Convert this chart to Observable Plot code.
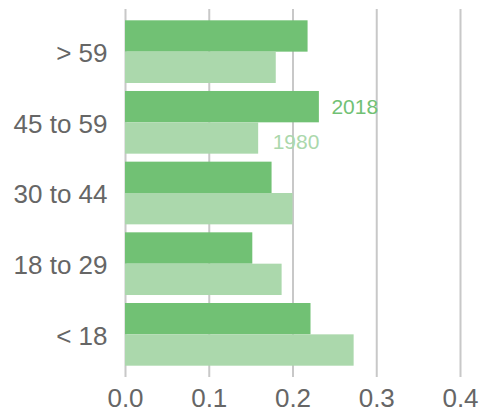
<!DOCTYPE html>
<html>
<head>
<meta charset="utf-8">
<script src="https://cdn.jsdelivr.net/npm/d3@7"></script>
<script src="https://cdn.jsdelivr.net/npm/@observablehq/plot@0.6"></script>
<style>
  html, body { margin: 0; padding: 0; background: #fff; }
  #chart svg { display: block; }
</style>
</head>
<body>
<div id="chart"></div>
<script>
const ageGroups = ["> 59", "45 to 59", "30 to 44", "18 to 29", "< 18"];
const values2018 = [0.218, 0.2315, 0.175, 0.152, 0.2215];
const values1980 = [0.180, 0.159, 0.200, 0.187, 0.273];
const xTicks = [0, 0.1, 0.2, 0.3, 0.4];
const seriesLabels = ["2018", "1980"];
const labelGroup = "45 to 59";

const dark = "#71c174";
const light = "#abd8ac";
const gray = "#666666";

const W = 479, H = 413;
const mTop = 9, mBottom = 36, mLeft = 125, mRight = 19;
const pIn = 0.113, pOut = 0.16;
const step = (H - mTop - mBottom) / (ageGroups.length - pIn + 2 * pOut);
const half = step * (1 - pIn) / 2;

const d2018 = ageGroups.map((g, i) => ({group: g, value: values2018[i]}));
const d1980 = ageGroups.map((g, i) => ({group: g, value: values1980[i]}));
const li = ageGroups.indexOf(labelGroup);

const chart = Plot.plot({
  width: W,
  height: H,
  marginTop: mTop,
  marginBottom: mBottom,
  marginLeft: mLeft,
  marginRight: mRight,
  style: {fontFamily: "'Liberation Sans', Arial, sans-serif", background: "#fff"},
  x: {domain: [0, 0.4], ticks: xTicks, tickFormat: d3.format(".1f"), label: null},
  y: {domain: ageGroups, paddingInner: pIn, paddingOuter: pOut, round: false, label: null},
  marks: [
    Plot.gridX(xTicks, {stroke: "#c8c8c8", strokeOpacity: 1, strokeWidth: 2}),
    Plot.barX(d2018, {x: "value", y: "group", fill: dark, insetBottom: half}),
    Plot.barX(d1980, {x: "value", y: "group", fill: light, insetTop: half}),
    Plot.axisX({ticks: xTicks, tickFormat: d3.format(".1f"), tickSize: 0, tickPadding: 11, fontSize: 26, fill: gray, label: null}),
    Plot.axisY({tickSize: 0, tickPadding: 18, fontSize: 26, fill: gray, dy: 1.5, label: null}),
    Plot.text([{group: labelGroup, value: values2018[li], t: seriesLabels[0]}],
      {x: "value", y: "group", text: "t", textAnchor: "start", dx: 12, dy: -16, fontSize: 21, fill: dark}),
    Plot.text([{group: labelGroup, value: values1980[li], t: seriesLabels[1]}],
      {x: "value", y: "group", text: "t", textAnchor: "start", dx: 14, dy: 19.5, fontSize: 21, fill: light})
  ]
});
document.getElementById("chart").appendChild(chart);
</script>
</body>
</html>
